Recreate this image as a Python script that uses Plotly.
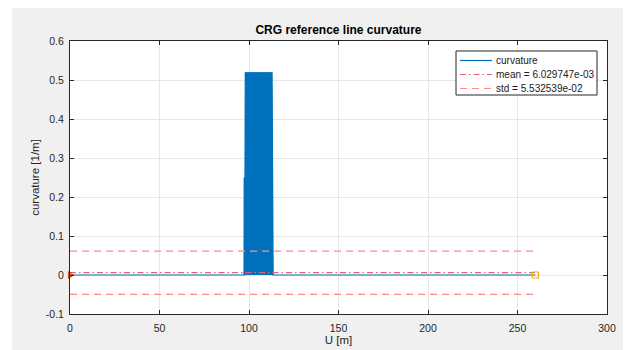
import plotly.graph_objects as go

# ---- data ----
u_curv = [0.0, 97.5, 97.6, 97.9, 98.2, 98.6, 99.0, 99.4, 99.8, 100.2, 100.6, 101.0,
          101.4, 101.8, 102.2, 102.6, 103.0, 103.4, 103.8, 104.2, 104.6, 105.0,
          105.4, 105.8, 106.2, 106.6, 107.0, 107.4, 107.8, 108.2, 108.6, 109.0,
          109.4, 109.8, 110.2, 110.6, 111.0, 111.4, 111.8, 112.2, 112.6, 112.8,
          113.0, 113.2, 260.0]
k_curv = [0.0, 0.0, 0.25, 0.0, 0.52, 0.0, 0.52, 0.0, 0.52, 0.0, 0.52, 0.0,
          0.52, 0.0, 0.52, 0.0, 0.52, 0.0, 0.52, 0.0, 0.52, 0.0,
          0.52, 0.0, 0.52, 0.0, 0.52, 0.0, 0.52, 0.0, 0.52, 0.0,
          0.52, 0.0, 0.52, 0.0, 0.52, 0.0, 0.52, 0.0, 0.52, 0.0,
          0.26, 0.0, 0.0]
u_range = [0.0, 260.0]
mean_val = 6.029747e-03
std_val = 5.532539e-02

x_tickvals = [0, 50, 100, 150, 200, 250, 300]
x_ticktext = ["0", "50", "100", "150", "200", "250", "300"]
y_tickvals = [-0.1, 0, 0.1, 0.2, 0.3, 0.4, 0.5, 0.6]
y_ticktext = ["-0.1", "0", "0.1", "0.2", "0.3", "0.4", "0.5", "0.6"]

# ---- figure (page body has an 8px margin, so the figure is 8px smaller) ----
OFF = 8
W, H = 631 - OFF, 350 - OFF
L, T = 70 - OFF, 41 - OFF
R, B = W - (607 - OFF), H - (314 - OFF)
pw, ph = W - L - R, H - T - B
FONT = "Liberation Sans, Arial, Helvetica, sans-serif"
AXC = "#262626"
C_CURV = "#0072BD"
C_MEAN = "#EE6070"
C_STD_HI = "#FF8C8C"
C_STD_LO = "#FF6A6A"
DASH_MEAN = "6px,3px,1.5px,3px"
DASH_STD = "7px,5px"

# screen pixel -> paper coordinate helpers
def px(xs):
    return (xs - OFF - L) / pw

def py(ys):
    return (H - B - (ys - OFF)) / ph

fig = go.Figure()
fig.add_trace(go.Scatter(x=u_curv, y=k_curv, mode="lines", name="curvature", showlegend=False,
                         line=dict(color=C_CURV, width=1.2)))
# dense part of the same curve drawn heavier so the oscillation renders solid
fig.add_trace(go.Scatter(x=u_curv[1:-1], y=k_curv[1:-1], mode="lines", showlegend=False,
                         hoverinfo="skip", line=dict(color=C_CURV, width=2.2)))
fig.add_trace(go.Scatter(x=u_range, y=[mean_val, mean_val], mode="lines", showlegend=False,
                         name="mean = %e" % mean_val,
                         line=dict(color=C_MEAN, width=1.2, dash=DASH_MEAN)))
fig.add_trace(go.Scatter(x=u_range, y=[mean_val + std_val] * 2, mode="lines", showlegend=False,
                         name="std = %e" % std_val,
                         line=dict(color=C_STD_HI, width=1.2, dash=DASH_STD)))
fig.add_trace(go.Scatter(x=u_range, y=[mean_val - std_val] * 2, mode="lines",
                         showlegend=False,
                         line=dict(color=C_STD_LO, width=1.2, dash=DASH_STD)))
fig.add_trace(go.Scatter(x=[u_curv[0]], y=[k_curv[0]], mode="markers", showlegend=False,
                         cliponaxis=False,
                         marker=dict(symbol="triangle-right-open", size=6, color="#D95319",
                                     line=dict(width=1.2, color="#D95319"))))
fig.add_trace(go.Scatter(x=[u_curv[-1]], y=[k_curv[-1]], mode="markers", showlegend=False,
                         cliponaxis=False,
                         marker=dict(symbol="square-open", size=6, color="#EDB120",
                                     line=dict(width=1.2, color="#EDB120"))))

axis_common = dict(showline=True, linecolor=AXC, linewidth=1, mirror="allticks",
                   ticks="inside", ticklen=4, tickcolor=AXC, tickwidth=1, automargin=False,
                   showgrid=True, gridcolor="#E6E6E6", gridwidth=1, zeroline=False,
                   tickfont=dict(family=FONT, size=10.5, color=AXC))

# MATLAB-style compact legend (box, line samples, labels)
legend_labels = ["curvature", "mean = %e" % mean_val, "std = %e" % std_val]
legend_styles = [(C_CURV, "solid"), (C_MEAN, DASH_MEAN), (C_STD_HI, DASH_STD)]
legend_rows = [60.5, 74.5, 88.5]

shapes = [
    dict(type="rect", xref="paper", yref="paper", layer="below",
         x0=px(OFF), x1=px(12), y0=py(H + OFF), y1=py(OFF),
         fillcolor="white", line=dict(width=0)),
    dict(type="rect", xref="paper", yref="paper", layer="above",
         x0=px(456), x1=px(597), y0=py(95), y1=py(51),
         fillcolor="white", line=dict(width=1, color=AXC)),
]
annotations = []
for lab, (col, dsh), row in zip(legend_labels, legend_styles, legend_rows):
    shapes.append(dict(type="line", xref="paper", yref="paper", layer="above",
                       x0=px(460), x1=px(492), y0=py(row), y1=py(row),
                       line=dict(color=col, width=1.2, dash=dsh)))
    annotations.append(dict(text=lab, xref="paper", yref="paper", x=px(494), y=py(row),
                            xanchor="left", yanchor="middle", showarrow=False,
                            font=dict(family=FONT, size=10, color="#1A1A1A")))

fig.update_layout(
    width=W, height=H,
    margin=dict(l=L, r=R, t=T, b=B),
    paper_bgcolor="#F0F0F0", plot_bgcolor="white",
    font=dict(family=FONT, size=10, color=AXC),
    title=dict(text="<b>CRG reference line curvature</b>", x=(L + pw / 2) / W, xanchor="center",
               y=1 - (30 - OFF) / H, yanchor="middle", yref="container", automargin=False,
               font=dict(family=FONT, size=12, color="#000000")),
    xaxis=dict(range=[0, 300], tickvals=x_tickvals, ticktext=x_ticktext,
               title=dict(text="U [m]", font=dict(family=FONT, size=11.5, color=AXC), standoff=1),
               ticklabelstandoff=4, **axis_common),
    yaxis=dict(range=[-0.1, 0.6], tickvals=y_tickvals, ticktext=y_ticktext,
               title=dict(text="curvature [1/m]", font=dict(family=FONT, size=11.5, color=AXC), standoff=3),
               ticklabelstandoff=3, **axis_common),
    showlegend=False,
    shapes=shapes,
    annotations=annotations,
)

fig.write_html("out.html")
